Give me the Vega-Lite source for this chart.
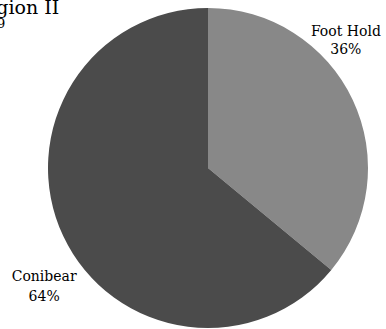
{
  "$schema": "https://vega.github.io/schema/vega-lite/v6.json",
  "width": 356,
  "height": 322,
  "autosize": {"type": "none"},
  "padding": {"left": 30, "top": 7, "right": 0, "bottom": 0},
  "background": "white",
  "title": {
    "text": "Trap Type Region II",
    "subtitle": "Season 2009",
    "anchor": "middle",
    "dx": -245,
    "dy": 28,
    "font": "DejaVu Serif",
    "fontSize": 19,
    "fontWeight": "normal",
    "color": "black",
    "subtitleFont": "DejaVu Serif",
    "subtitleFontSize": 13,
    "subtitleColor": "black",
    "subtitlePadding": 0
  },
  "data": {"values": [
    {"trap": "Foot Hold", "share": 0.36},
    {"trap": "Conibear", "share": 0.64}
  ]},
  "encoding": {
    "theta": {"field": "share", "type": "quantitative", "stack": true},
    "order": {"field": "share", "sort": "ascending"}
  },
  "layer": [
    {
      "mark": {"type": "arc", "outerRadius": 160},
      "encoding": {
        "color": {"field": "trap", "type": "nominal", "scale": {"domain": ["Foot Hold", "Conibear"], "range": ["#888888", "#4b4b4b"]}, "legend": null}
      }
    },
    {
      "mark": {"type": "text", "radius": 180, "dx": -25, "dy": -55.6, "baseline": "alphabetic", "font": "DejaVu Serif", "fontSize": 14, "color": "black"},
      "encoding": {"text": {"condition": {"test": "datum.trap === 'Foot Hold'", "field": "trap"}, "value": ""}}
    },
    {
      "mark": {"type": "text", "radius": 180, "dx": -25, "dy": -37, "baseline": "alphabetic", "font": "DejaVu Serif", "fontSize": 14, "color": "black"},
      "encoding": {"text": {"condition": {"test": "datum.trap === 'Foot Hold'", "field": "share", "format": ".0%"}, "value": ""}}
    },
    {
      "mark": {"type": "text", "radius": 180, "dx": -1, "dy": 36, "baseline": "alphabetic", "font": "DejaVu Serif", "fontSize": 14, "color": "black"},
      "encoding": {"text": {"condition": {"test": "datum.trap === 'Conibear'", "field": "trap"}, "value": ""}}
    },
    {
      "mark": {"type": "text", "radius": 180, "dx": -1, "dy": 56, "baseline": "alphabetic", "font": "DejaVu Serif", "fontSize": 14, "color": "black"},
      "encoding": {"text": {"condition": {"test": "datum.trap === 'Conibear'", "field": "share", "format": ".0%"}, "value": ""}}
    }
  ]
}
